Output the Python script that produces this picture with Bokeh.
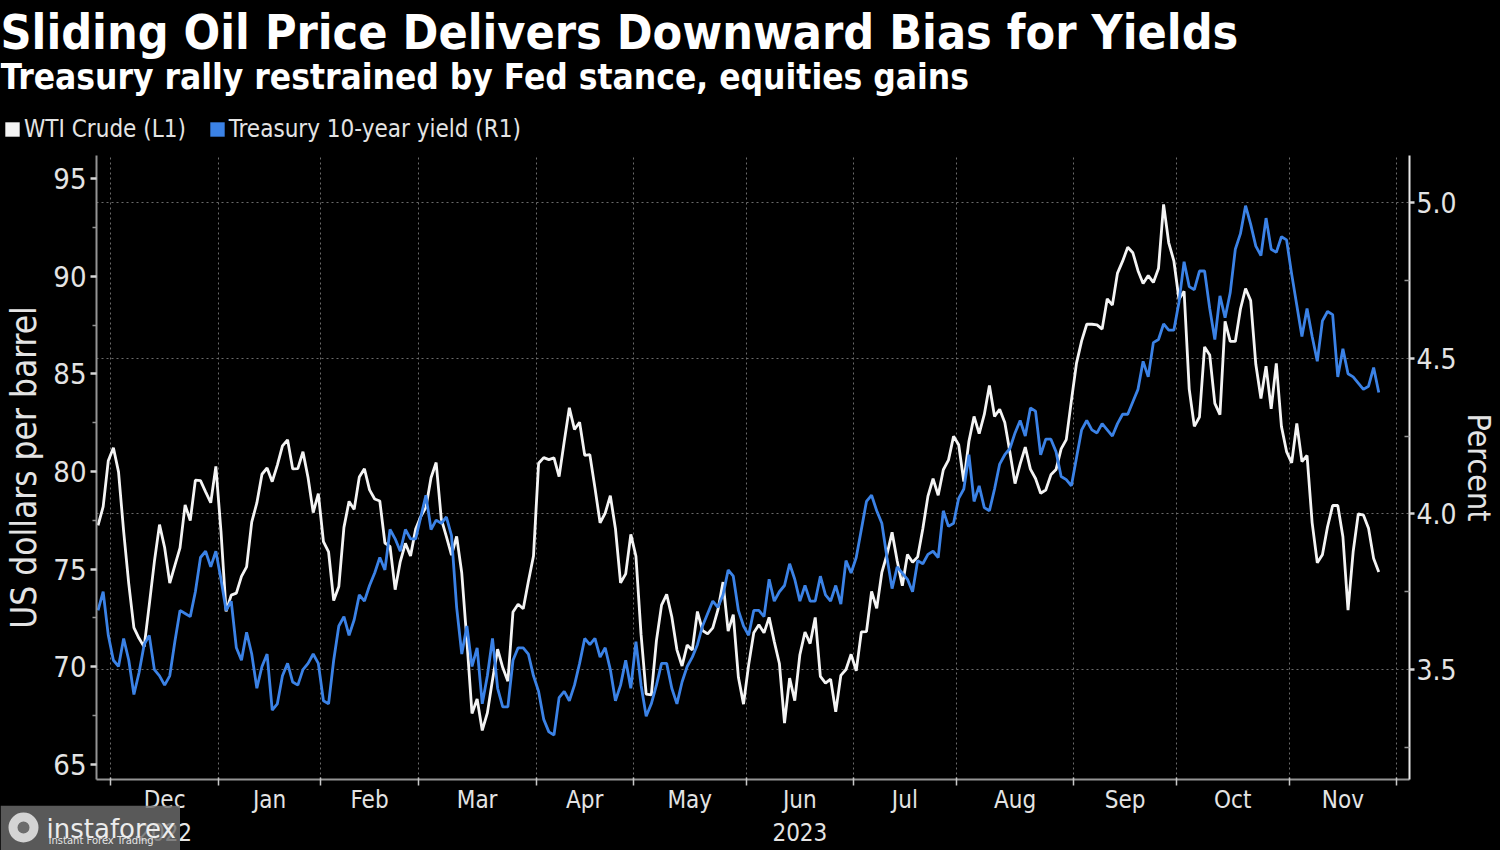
import pandas as pd
from bokeh.plotting import figure
from bokeh.models import (Range1d, LinearAxis, FixedTicker, Grid, Label, Legend, LegendItem,
                          NumeralTickFormatter, ColumnDataSource, GridBox)
from bokeh.embed import file_html
from bokeh.resources import INLINE

# ---------------- data ----------------
title_text = "Sliding Oil Price Delivers Downward Bias for Yields"
subtitle_text = "Treasury rally restrained by Fed stance, equities gains"
series_names = ["WTI Crude (L1)", "Treasury 10-year yield (R1)"]
watermark_texts = ["instaforex", "Instant Forex Trading"]

first_day = "2022-11-28"
calendar_end = "2023-12-01"
holidays = ["2022-12-26", "2023-01-02", "2023-01-16", "2023-02-20", "2023-04-07",
            "2023-05-29", "2023-06-19", "2023-07-04", "2023-09-04", "2023-11-23"]

# WTI crude, US$ per barrel, one value per trading day (Nov 28 2022 .. Nov 27 2023)
wti_crude = [
    77.24, 78.20, 80.55,
    81.22, 79.98, 76.93, 74.25, 72.01, 71.46, 71.02, 73.17, 75.39, 77.28, 76.11, 74.29,
    75.19, 76.09, 78.29, 77.49, 79.56, 79.53, 78.96, 78.40, 80.26,
    76.93, 72.84, 73.67, 73.77, 74.63, 75.12, 77.41, 78.39, 79.86, 80.18, 79.48, 80.33,
    81.31, 81.62, 80.13, 80.15, 81.01, 79.68, 77.90, 78.87,
    76.41, 75.88, 73.39, 74.11, 77.14, 78.47, 78.06, 79.72, 80.14, 79.06, 78.59, 78.49,
    76.34, 76.16, 73.95, 75.39, 76.32, 75.68, 77.05,
    77.69, 78.16, 79.68, 80.46, 77.58, 76.66, 75.72, 76.68, 74.80, 71.33, 67.61, 68.35,
    66.74, 67.64, 69.33, 70.90, 69.96, 69.26, 72.81, 73.20, 72.97, 74.37, 75.67,
    80.42, 80.71, 80.61, 80.70, 79.74, 81.53, 83.26, 82.16, 82.52, 80.83, 80.86, 79.16,
    77.37, 77.87, 78.76, 77.07, 74.30, 74.76, 76.78,
    75.66, 71.66, 68.60, 68.56, 71.34, 73.16, 73.71, 72.56, 70.87, 70.04, 71.11, 70.86,
    72.83, 71.86, 71.69, 71.99, 72.91, 74.34, 71.83, 72.67, 69.46, 68.09,
    70.10, 71.74, 72.15, 71.74, 72.53, 71.29, 70.17, 67.12, 69.42, 68.27, 70.62, 71.78,
    71.19, 72.53, 69.51, 69.16, 69.37, 67.70, 69.56, 69.86, 70.64,
    69.79, 71.79, 71.80, 73.86, 72.99, 74.83, 75.75, 76.89, 75.42, 74.15, 75.75, 75.35,
    75.63, 77.07, 78.74, 79.63, 78.78, 80.09, 80.58, 81.80,
    81.37, 79.49, 81.55, 82.82, 81.94, 82.92, 84.40, 82.82, 83.19, 82.51, 80.99, 79.38,
    80.39, 81.25, 80.12, 79.64, 78.89, 79.05, 79.83, 80.10, 81.16, 81.63, 83.63,
    85.55, 86.69, 87.54, 87.54, 87.51, 87.29, 88.84, 88.52, 90.16, 90.77, 91.48, 91.20,
    90.28, 89.63, 90.03, 89.68, 90.39, 93.68, 91.71, 90.79,
    88.82, 89.23, 84.22, 82.31, 82.79, 86.38, 85.97, 83.49, 82.91, 87.69, 86.66, 86.66,
    88.32, 89.37, 88.75, 85.49, 83.74, 85.39, 83.21, 85.54, 82.31, 81.02,
    80.44, 82.46, 80.51, 80.82, 77.37, 75.33, 75.74, 77.17, 78.26, 78.26, 76.66, 72.90,
    75.89, 77.83, 77.77, 77.10, 75.54, 74.86,
]

# US Treasury 10-year yield, percent, same trading days
ust_10y = [
    3.69, 3.75, 3.61,
    3.53, 3.51, 3.60, 3.53, 3.42, 3.49, 3.58, 3.61, 3.50, 3.48, 3.45, 3.48,
    3.59, 3.69, 3.68, 3.67, 3.75, 3.86, 3.88, 3.83, 3.88,
    3.79, 3.69, 3.72, 3.57, 3.53, 3.62, 3.55, 3.44, 3.51, 3.55, 3.37, 3.39,
    3.48, 3.52, 3.46, 3.45, 3.50, 3.52, 3.55, 3.52,
    3.40, 3.39, 3.53, 3.64, 3.67, 3.61, 3.66, 3.74, 3.72, 3.77, 3.81, 3.86,
    3.82, 3.95, 3.92, 3.88, 3.95, 3.92, 3.92,
    3.99, 4.06, 3.95, 3.98, 3.97, 3.99, 3.93, 3.70, 3.55, 3.64, 3.51, 3.57,
    3.39, 3.48, 3.60, 3.44, 3.38, 3.38, 3.53, 3.57, 3.57, 3.55, 3.48,
    3.43, 3.34, 3.30, 3.29, 3.41, 3.43, 3.40, 3.45, 3.52, 3.60, 3.58, 3.60,
    3.54, 3.57, 3.50, 3.40, 3.45, 3.53, 3.44,
    3.59, 3.45, 3.35, 3.39, 3.45, 3.52, 3.52, 3.44, 3.39, 3.46, 3.51, 3.54,
    3.58, 3.64, 3.68, 3.72, 3.70, 3.74, 3.82, 3.80, 3.69, 3.64,
    3.61, 3.69, 3.69, 3.67, 3.79, 3.72, 3.75, 3.77, 3.84, 3.79, 3.72, 3.77,
    3.72, 3.72, 3.80, 3.74, 3.72, 3.77, 3.71, 3.85, 3.81,
    3.86, 3.95, 4.04, 4.06, 4.01, 3.97, 3.86, 3.76, 3.83, 3.81, 3.79, 3.75,
    3.85, 3.84, 3.87, 3.88, 3.86, 4.01, 3.96, 3.97,
    4.05, 4.08, 4.19, 4.04, 4.09, 4.02, 4.01, 4.08, 4.16, 4.19, 4.21, 4.26,
    4.30, 4.25, 4.34, 4.33, 4.19, 4.24, 4.24, 4.20, 4.12, 4.11, 4.09,
    4.18, 4.27, 4.30, 4.27, 4.26, 4.29, 4.27, 4.25, 4.29, 4.32, 4.32, 4.36,
    4.40, 4.49, 4.44, 4.55, 4.56, 4.61, 4.59, 4.59,
    4.68, 4.81, 4.73, 4.72, 4.78, 4.78, 4.66, 4.56, 4.70, 4.63, 4.71, 4.85,
    4.90, 4.99, 4.93, 4.86, 4.83, 4.95, 4.85, 4.84, 4.89, 4.88,
    4.77, 4.67, 4.57, 4.66, 4.57, 4.49, 4.62, 4.65, 4.64, 4.44, 4.53, 4.45,
    4.44, 4.42, 4.40, 4.41, 4.47, 4.39,
]

month_labels = ["Dec\n2022", "Jan", "Feb", "Mar", "Apr", "May", "Jun\n2023",
                "Jul", "Aug", "Sep", "Oct", "Nov"]
left_ticks = [65, 70, 75, 80, 85, 90, 95]
left_minor = [67.5, 72.5, 77.5, 82.5, 87.5, 92.5]
right_ticks = [3.5, 4.0, 4.5, 5.0]
right_minor = [3.25, 3.75, 4.25, 4.75]

# ---------------- derived ----------------
cal = pd.bdate_range(first_day, calendar_end)
cal = cal[~cal.isin(pd.to_datetime(holidays))]
n = min(len(wti_crude), len(ust_10y))
x = list(range(n))

month_bounds = [i - 0.5 for i in range(1, len(cal)) if cal[i].month != cal[i - 1].month]
label_pos = []
for a, b in zip(month_bounds[:-1], month_bounds[1:]):
    m = (a + b) / 2
    label_pos.append(int(m) if float(m).is_integer() else m)
overrides = {pos: lab for pos, lab in zip(label_pos, month_labels)}

FONT = "DejaVu Sans Condensed"
TXT = "#e4e4e4"
AXIS = "#949494"
BLUE = "#3b82e6"
WHITE = "#f4f4f4"
W = 1500
TOTAL_H = 850
HEAD_H = 155
MAIN_H = TOTAL_H - HEAD_H


def no_align(fig):
    try:
        fig.frame_align = False
    except Exception:
        pass


# ---------------- header: title, subtitle, legend ----------------
head = figure(width=W, height=HEAD_H, x_range=Range1d(0, W), y_range=Range1d(HEAD_H, 0),
              x_axis_type=None, y_axis_type=None, output_backend="svg", toolbar_location=None,
              min_border=0, min_border_left=0, min_border_right=0, min_border_top=0,
              min_border_bottom=0, background_fill_color="black", border_fill_color="black",
              outline_line_color=None)
no_align(head)
head.xgrid.visible = False
head.ygrid.visible = False
head.add_layout(Label(x=0, y=31, text=title_text, text_font=FONT, text_font_size="48px",
                      text_font_style="bold", text_color="white", text_baseline="alphabetic"))
head.add_layout(Label(x=0, y=76, text=subtitle_text, text_font=FONT, text_font_size="35px",
                      text_font_style="bold", text_color="white", text_baseline="alphabetic"))
# legend swatches: glyphs kept outside the visible range, shown only in the legend
sw_w = head.quad(left=[-30], right=[-20], top=[-30], bottom=[-20], fill_color=WHITE, line_color=None)
sw_b = head.quad(left=[-30], right=[-20], top=[-30], bottom=[-20], fill_color=BLUE, line_color=None)
legend = Legend(items=[LegendItem(label=series_names[0], renderers=[sw_w]),
                       LegendItem(label=series_names[1], renderers=[sw_b])],
                orientation="horizontal", location=(3, 12),
                background_fill_alpha=0, border_line_alpha=0,
                padding=0, margin=0, spacing=22, label_standoff=3,
                glyph_width=18, glyph_height=18,
                label_text_color=TXT, label_text_font=FONT, label_text_font_size="24px")
head.add_layout(legend)

# ---------------- main chart ----------------
p = figure(width=W, height=MAIN_H,
           x_range=Range1d(-0.3, 256.0), y_range=Range1d(64.23, 96.18),
           x_axis_type=None, y_axis_type=None,
           output_backend="svg", toolbar_location=None,
           min_border_left=96, min_border_right=90, min_border_top=0, min_border_bottom=68,
           background_fill_color="black", border_fill_color="black", outline_line_color=None)
no_align(p)
p.extra_y_ranges = {"pct": Range1d(3.147, 5.151)}

p.add_layout(Grid(dimension=0, ticker=FixedTicker(ticks=month_bounds),
                  grid_line_color="#6a6a6a", grid_line_dash="2 3", grid_line_width=1))
p.add_layout(Grid(dimension=1, ticker=FixedTicker(ticks=right_ticks), y_range_name="pct",
                  grid_line_color="#6a6a6a", grid_line_dash="2 3", grid_line_width=1))

yl = LinearAxis(ticker=FixedTicker(ticks=left_ticks, minor_ticks=left_minor),
                axis_label="US dollars per barrel")
yr = LinearAxis(y_range_name="pct", ticker=FixedTicker(ticks=right_ticks, minor_ticks=right_minor),
                formatter=NumeralTickFormatter(format="0.0"), axis_label="Percent")
xb = LinearAxis(ticker=FixedTicker(ticks=label_pos, minor_ticks=month_bounds),
                major_label_overrides=overrides)
for ax in (yl, yr, xb):
    ax.axis_line_color = AXIS
    ax.axis_line_width = 2
    ax.major_tick_line_color = "#d8d8d8"
    ax.major_tick_line_width = 2.5
    ax.major_tick_out = 6
    ax.major_tick_in = 0
    ax.minor_tick_line_color = AXIS
    ax.minor_tick_line_width = 1.5
    ax.minor_tick_out = 4
    ax.minor_tick_in = 0
    ax.major_label_text_color = TXT
    ax.major_label_text_font = FONT
    ax.major_label_text_font_size = "29px"
    ax.major_label_standoff = 4
    ax.axis_label_text_color = TXT
    ax.axis_label_text_font = FONT
    ax.axis_label_text_font_size = "35px"
    ax.axis_label_text_font_style = "normal"
    ax.axis_label_standoff = 6
yr.axis_line_color = "#e8e8e8"
yr.minor_tick_in = 5
yr.minor_tick_out = 0
yr.major_tick_out = 5
yr.major_label_standoff = 2
yr.major_label_text_font_size = "28px"
yr.axis_label_standoff = 0
yr.axis_label_text_font_size = "32px"
xb.major_tick_out = 0
xb.minor_tick_out = 6
xb.minor_tick_in = 2
xb.minor_tick_line_color = "#c8c8c8"
xb.major_label_text_font_size = "24px"
xb.major_label_standoff = 0
p.add_layout(yl, "left")
p.add_layout(yr, "right")
p.add_layout(xb, "below")

src = ColumnDataSource(dict(x=x, wti=wti_crude[:n], ust=ust_10y[:n]))
p.line("x", "wti", source=src, line_color=WHITE, line_width=2.8)
p.line("x", "ust", source=src, line_color=BLUE, line_width=2.8, y_range_name="pct")

# ---------------- watermark overlay (bottom-left) ----------------
WM_W, WM_H = 180, 45
wm = figure(width=WM_W, height=WM_H, x_range=Range1d(0, WM_W), y_range=Range1d(WM_H, 0),
            x_axis_type=None, y_axis_type=None, output_backend="svg", toolbar_location=None,
            min_border=0, min_border_left=0, min_border_right=0, min_border_top=0,
            min_border_bottom=0, background_fill_alpha=0, border_fill_alpha=0,
            outline_line_color=None, align=("start", "end"))
no_align(wm)
wm.xgrid.visible = False
wm.ygrid.visible = False
wm.quad(left=[0], right=[WM_W], top=[0], bottom=[WM_H], fill_color="#6c6c6c",
        fill_alpha=0.82, line_color=None)
wm.scatter([23], [22], marker="circle", size=30, fill_color="#d4d4d4", line_color=None)
wm.scatter([23], [22], marker="circle", size=12, fill_color="#6c6c6c", line_color=None)
wm.add_layout(Label(x=46, y=23, text=watermark_texts[0], text_font="DejaVu Sans",
                    text_font_size="26px", text_color="#ececec", text_baseline="alphabetic"))
wm.add_layout(Label(x=48, y=35, text=watermark_texts[1], text_font="DejaVu Sans",
                    text_font_size="10px", text_color="#e4e4e4", text_baseline="alphabetic"))

layout = GridBox(children=[(head, 0, 0), (p, 1, 0), (wm, 1, 0)], spacing=0)

html = file_html(layout, INLINE)
html = html.replace("<head>", "<head><style>html, body {background: #000000; margin: 0; "
                              "padding: 0; overflow: hidden;}</style>", 1)
open("out.html", "w").write(html)
